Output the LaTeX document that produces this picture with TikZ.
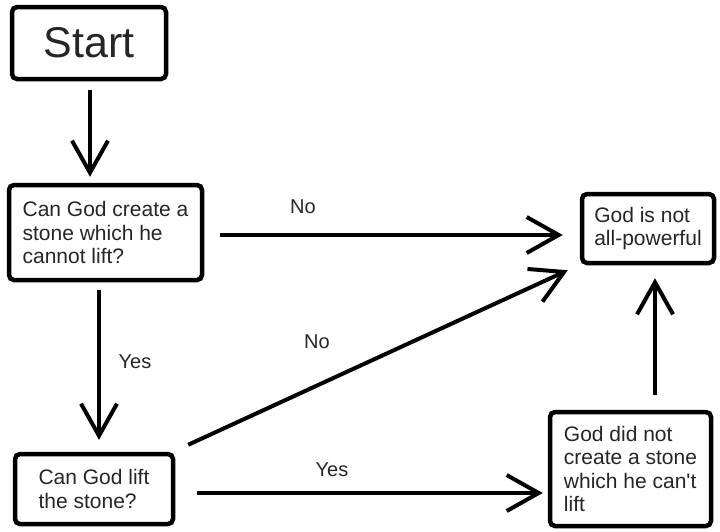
\documentclass[tikz,border=0pt]{standalone}
\usepackage{fontspec}
\setmainfont{Liberation Sans}
\usetikzlibrary{arrows.meta,calc}
\begin{document}
\begin{tikzpicture}[x=1pt,y=-1pt,
  box/.style={draw, line width=4.5pt, rounded corners=5pt, inner sep=0pt, align=left,
    font=\fontsize{21}{23.5}\selectfont, text=black!85},
  arr/.style={line width=4pt, -{Straight Barb[length=32pt,width=36pt]}},
  lbl/.style={font=\fontsize{20}{24}\selectfont, text=black!85}]
\useasboundingbox[fill=white] (0,0) rectangle (720,531);
% boxes
\node[box, align=center, minimum width=154pt, minimum height=72pt,
  font=\fontsize{43}{50}\selectfont] (s) at (89,43) {Start};
\node[box, minimum width=193pt, minimum height=95pt] (q1) at (105.5,232.5)
  {Can God create a\\stone which he\\cannot lift?};
\node[box, minimum width=132pt, minimum height=69pt] (e1) at (648,228.5)
  {God is not\\all-powerful};
\node[box, minimum width=158pt, minimum height=70pt] (q2) at (94,489)
  {Can God lift\\the stone?};
\node[box, minimum width=161pt, minimum height=114pt] (e2) at (630.5,469)
  {God did not\\create a stone\\which he can\textquotesingle t\\lift};
% connectors
\draw[arr] ($(s.south)+(1,9)$) -- ($(s.south |- q1.north)+(1,-6)$);
\draw[arr] ($(q1.east)+(16,2.5)$) -- ($(e1.west)+(-17,6.5)$);
\draw[arr] ($(q1.south)+(-6.5,8)$) -- ($(q2.north)+(5,-12)$);
\draw[arr] ($(q2.north east)+(13,-7)$) -- ($(e1.south west)+(-12,5)$);
\draw[arr] ($(q2.east)+(22,4)$) -- ($(e2.west)+(-5,24)$);
\draw[arr] ($(e2.north)+(24.5,-15)$) -- ($(e1.south)+(7,13)$);
% labels
\node[lbl] (l1) at (303,207) {No};
\node[lbl] (l2) at (317,342) {No};
\node[lbl] (l3) at (135,362) {Yes};
\node[lbl] (l4) at (332,470) {Yes};
\end{tikzpicture}
\end{document}
